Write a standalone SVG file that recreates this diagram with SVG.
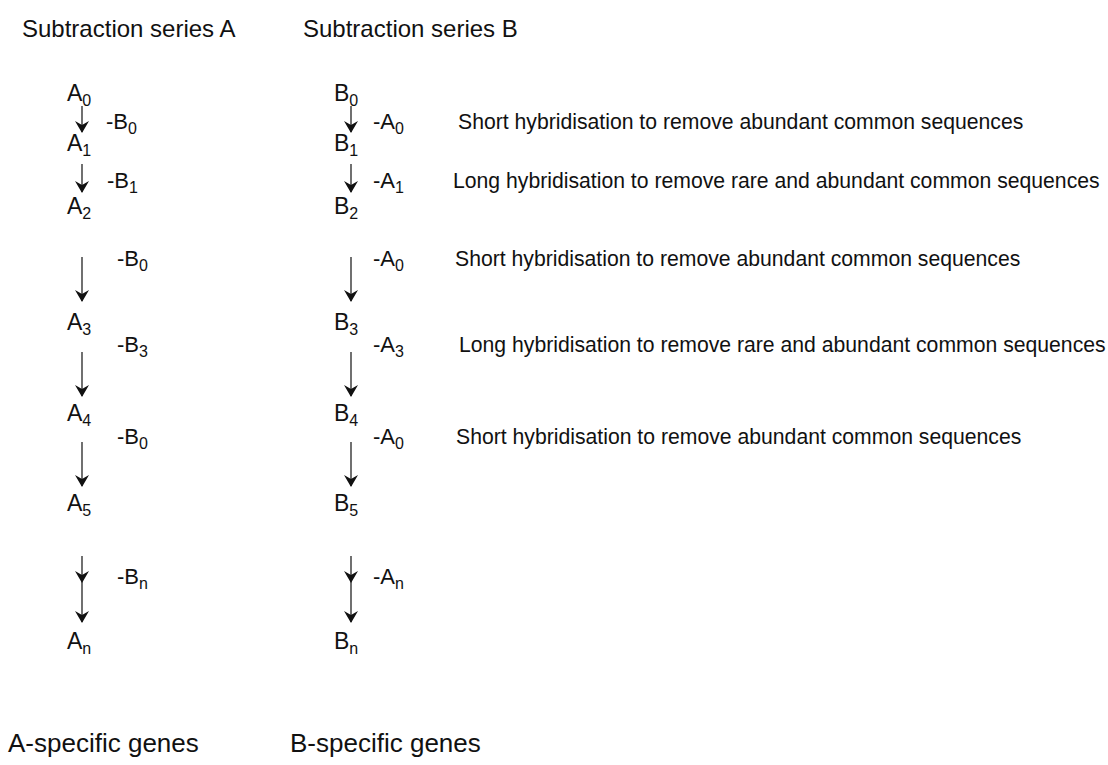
<svg xmlns="http://www.w3.org/2000/svg" width="1108" height="765" viewBox="0 0 1108 765">
<style>
text{font-family:"Liberation Sans",Arial,sans-serif;fill:#111}
.hd{font-size:24px}
.nd{font-size:23px}
.lb{font-size:22px}
.ds{font-size:21.2px}
.ft{font-size:26px}
.sub{font-size:16px}
.arr{stroke:#111;stroke-width:1.2;fill:none;marker-end:url(#ah)}
.arr2{stroke:#111;stroke-width:1.2;fill:none;marker-mid:url(#ah);marker-end:url(#ah)}
</style>
<defs>
<marker id="ah" viewBox="0 0 12 14" refX="11" refY="7" markerWidth="12" markerHeight="14" markerUnits="userSpaceOnUse" orient="auto">
<path d="M12,7 L0,0 L4,7 L0,14 Z" fill="#111"/>
</marker>
</defs>
<rect width="1108" height="765" fill="#fff"/>
<g id="headers">
<text class="hd" x="22" y="37">Subtraction series A</text>
<text class="hd" x="303" y="37">Subtraction series B</text>
</g>
<g id="connectors">
<path class="arr" d="M82,106 L82,132"/>
<path class="arr" d="M82,164 L82,192"/>
<path class="arr" d="M82,257 L82,301"/>
<path class="arr" d="M82,352 L82,396"/>
<path class="arr" d="M82,442 L82,486"/>
<path class="arr2" d="M82,556 L82,582 L82,622"/>
<path class="arr" d="M351,106 L351,132"/>
<path class="arr" d="M351,164 L351,192"/>
<path class="arr" d="M351,257 L351,301"/>
<path class="arr" d="M351,352 L351,396"/>
<path class="arr" d="M351,442 L351,486"/>
<path class="arr2" d="M351,556 L351,582 L351,622"/>
</g>
<g id="nodeA0"><text class="nd" x="67" y="101">A<tspan class="sub" dy="5">0</tspan></text></g>
<g id="nodeA1"><text class="nd" x="67" y="151">A<tspan class="sub" dy="5">1</tspan></text></g>
<g id="nodeA2"><text class="nd" x="67" y="214">A<tspan class="sub" dy="5">2</tspan></text></g>
<g id="nodeA3"><text class="nd" x="67" y="330">A<tspan class="sub" dy="5">3</tspan></text></g>
<g id="nodeA4"><text class="nd" x="67" y="421">A<tspan class="sub" dy="5">4</tspan></text></g>
<g id="nodeA5"><text class="nd" x="67" y="511">A<tspan class="sub" dy="5">5</tspan></text></g>
<g id="nodeAn"><text class="nd" x="67" y="649">A<tspan class="sub" dy="5">n</tspan></text></g>
<g id="nodeB0"><text class="nd" x="334" y="101">B<tspan class="sub" dy="5">0</tspan></text></g>
<g id="nodeB1"><text class="nd" x="334" y="151">B<tspan class="sub" dy="5">1</tspan></text></g>
<g id="nodeB2"><text class="nd" x="334" y="214">B<tspan class="sub" dy="5">2</tspan></text></g>
<g id="nodeB3"><text class="nd" x="334" y="330">B<tspan class="sub" dy="5">3</tspan></text></g>
<g id="nodeB4"><text class="nd" x="334" y="421">B<tspan class="sub" dy="5">4</tspan></text></g>
<g id="nodeB5"><text class="nd" x="334" y="511">B<tspan class="sub" dy="5">5</tspan></text></g>
<g id="nodeBn"><text class="nd" x="334" y="649">B<tspan class="sub" dy="5">n</tspan></text></g>
<g id="labelsA">
<text class="lb" x="106" y="129">-B<tspan class="sub" dy="5">0</tspan></text>
<text class="lb" x="107" y="188">-B<tspan class="sub" dy="5">1</tspan></text>
<text class="lb" x="117" y="266">-B<tspan class="sub" dy="5">0</tspan></text>
<text class="lb" x="117" y="352">-B<tspan class="sub" dy="5">3</tspan></text>
<text class="lb" x="117" y="444">-B<tspan class="sub" dy="5">0</tspan></text>
<text class="lb" x="117" y="584">-B<tspan class="sub" dy="5">n</tspan></text>
</g>
<g id="labelsB">
<text class="lb" x="373" y="129">-A<tspan class="sub" dy="5">0</tspan></text>
<text class="lb" x="373" y="188">-A<tspan class="sub" dy="5">1</tspan></text>
<text class="lb" x="373" y="266">-A<tspan class="sub" dy="5">0</tspan></text>
<text class="lb" x="373" y="352">-A<tspan class="sub" dy="5">3</tspan></text>
<text class="lb" x="373" y="444">-A<tspan class="sub" dy="5">0</tspan></text>
<text class="lb" x="373" y="584">-A<tspan class="sub" dy="5">n</tspan></text>
</g>
<g id="descriptions">
<text class="ds" x="458" y="129">Short hybridisation to remove abundant common sequences</text>
<text class="ds" x="453" y="188">Long hybridisation to remove rare and abundant common sequences</text>
<text class="ds" x="455" y="266">Short hybridisation to remove abundant common sequences</text>
<text class="ds" x="459" y="352">Long hybridisation to remove rare and abundant common sequences</text>
<text class="ds" x="456" y="444">Short hybridisation to remove abundant common sequences</text>
</g>
<g id="footers">
<text class="ft" x="8" y="752">A-specific genes</text>
<text class="ft" x="290" y="752">B-specific genes</text>
</g>
</svg>
